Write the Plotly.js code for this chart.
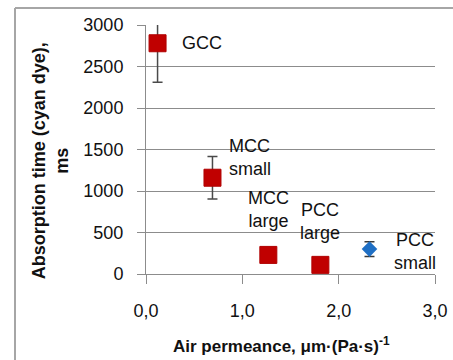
<!DOCTYPE html>
<html>
<head>
<meta charset="utf-8">
<script src="https://cdn.plot.ly/plotly-3.0.1.min.js"></script>
<style>
html,body{margin:0;padding:0;background:#fff;}
#chart{width:453px;height:360px;}
</style>
</head>
<body>
<div id="chart"></div>
<script>
// Data
var redLabels = ["GCC", "MCC<br>small", "MCC<br>large", "PCC<br>large"];
var redX = [0.12, 0.69, 1.27, 1.81];
var redY = [2780, 1160, 230, 110];
var redErr = [470, 255, 0, 0];

var blueLabels = ["PCC<br>small"];
var blueX = [2.32];
var blueY = [300];
var blueErr = [90];

var xTicks = [0, 1, 2, 3];
var yTicks = [0, 500, 1000, 1500, 2000, 2500, 3000];

// label placement (pixel offsets relative to each point)
var redLabelStyle = [
  {xshift: 22, yshift: 0, xanchor: "left", align: "left"},
  {xshift: 15, yshift: 20, xanchor: "left", align: "left"},
  {xshift: 0, yshift: 45, xanchor: "center", align: "center"},
  {xshift: 0, yshift: 43, xanchor: "center", align: "center"}
];
var blueLabelStyle = [
  {xshift: 23, yshift: -2, xanchor: "left", align: "center"}
];

var FONT = "Liberation Sans, Arial, sans-serif";
var gray = "#8c8c8c";

var traces = [
  {
    type: "scatter", mode: "markers",
    x: redX, y: redY,
    error_y: {type: "data", array: redErr, visible: true, color: "#4a4a4a", thickness: 1.5, width: 5},
    marker: {symbol: "square", size: 17, color: "#c00000", line: {color: "#b00000", width: 1}},
    showlegend: false, hoverinfo: "none"
  },
  {
    type: "scatter", mode: "markers",
    x: blueX, y: blueY,
    error_y: {type: "data", array: blueErr, visible: true, color: "#3a3a3a", thickness: 1.5, width: 5},
    marker: {symbol: "diamond", size: 12, color: "#1f6fc4"},
    showlegend: false, hoverinfo: "none"
  }
];

var annotations = [];
function addLabels(xs, ys, labels, styles) {
  for (var i = 0; i < xs.length; i++) {
    annotations.push({
      x: xs[i], y: ys[i], xref: "x", yref: "y",
      text: labels[i], showarrow: false,
      xshift: styles[i].xshift, yshift: styles[i].yshift,
      xanchor: styles[i].xanchor, yanchor: "middle", align: styles[i].align,
      font: {family: FONT, size: 18, color: "#111"}
    });
  }
}
addLabels(redX, redY, redLabels, redLabelStyle);
addLabels(blueX, blueY, blueLabels, blueLabelStyle);

// axis titles
annotations.push({
  xref: "paper", yref: "paper", x: 0.47, y: -0.285,
  text: "<b>Air permeance, μm·(Pa·s)<sup>-1</sup></b>",
  showarrow: false, xanchor: "center", yanchor: "middle",
  font: {family: FONT, size: 17, color: "#111"}
});
annotations.push({
  xref: "paper", yref: "paper", x: -0.33, y: 0.455,
  text: "<b>Absorption time (cyan dye),<br>ms</b>",
  showarrow: false, textangle: -90, xanchor: "center", yanchor: "middle",
  font: {family: FONT, size: 18, color: "#111"}
});

var layout = {
  width: 453, height: 360,
  margin: {l: 146, r: 18, t: 25, b: 86},
  paper_bgcolor: "#fff", plot_bgcolor: "#fff",
  separators: ", ",
  xaxis: {
    range: [0, 3], tickvals: xTicks, tickformat: ".1f",
    showgrid: false, zeroline: false,
    showline: true, linecolor: gray, linewidth: 1,
    ticks: "outside", ticklen: 9, tickcolor: gray,
    ticklabelstandoff: 11,
    tickfont: {family: FONT, size: 18, color: "#111"}
  },
  yaxis: {
    range: [0, 3000], tickvals: yTicks,
    showgrid: true, gridcolor: gray, gridwidth: 1,
    zeroline: false,
    showline: true, linecolor: gray, linewidth: 1,
    ticks: "outside", ticklen: 8, tickcolor: gray,
    ticklabelstandoff: 10,
    tickfont: {family: FONT, size: 18, color: "#111"}
  },
  annotations: annotations,
  shapes: [
    {type: "line", xref: "paper", yref: "paper", x0: (15 - 146) / 289, x1: (15 - 146) / 289, y0: (274 - 8) / 249, y1: (274 - 362) / 249, line: {color: "#a6a6a6", width: 2}},
    {type: "line", xref: "paper", yref: "paper", x0: (15 - 146) / 289, x1: (455 - 146) / 289, y0: (274 - 8) / 249, y1: (274 - 8) / 249, line: {color: "#a6a6a6", width: 2}}
  ]
};

Plotly.newPlot("chart", traces, layout, {staticPlot: true, displayModeBar: false});
</script>
</body>
</html>
